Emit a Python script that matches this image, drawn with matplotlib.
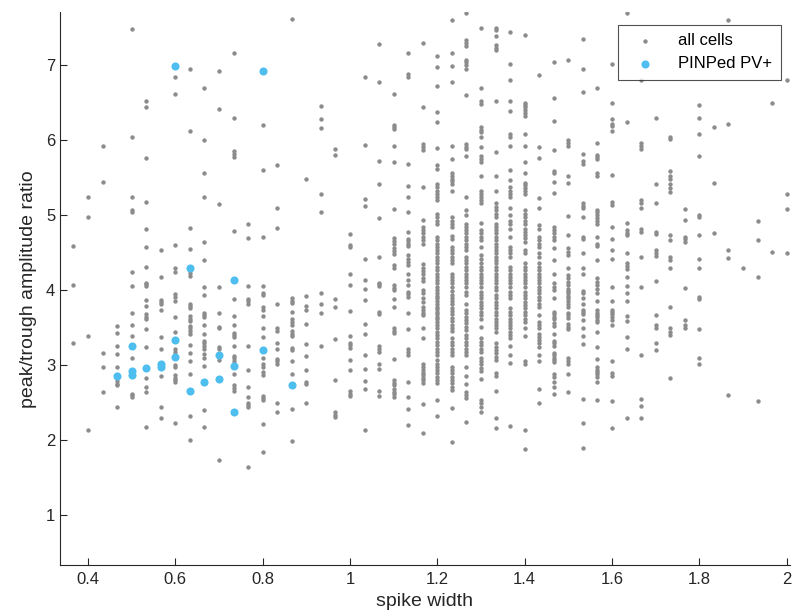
import matplotlib
matplotlib.use("Agg")
import matplotlib.pyplot as plt
import numpy as np

plt.rcParams['font.family'] = ['Liberation Sans', 'DejaVu Sans']

# spike width columns (values come in steps of 1/30)
widths = [0.3667, 0.4, 0.4333, 0.4667, 0.5, 0.5333, 0.5667, 0.6, 0.6333, 0.6667,
          0.7, 0.7333, 0.7667, 0.8, 0.8333, 0.8667, 0.9, 0.9333, 0.9667, 1.0,
          1.0333, 1.0667, 1.1, 1.1333, 1.1667, 1.2, 1.2333, 1.2667, 1.3, 1.3333,
          1.3667, 1.4, 1.4333, 1.4667, 1.5, 1.5333, 1.5667, 1.6, 1.6333, 1.6667,
          1.7, 1.7333, 1.7667, 1.8, 1.8333, 1.8667, 1.9, 1.9333, 1.9667, 2.0]

# peak/trough ratios of all cells, one list per width column
ratios_all = [
    [4.59, 4.07, 3.29],
    [5.25, 4.98, 3.39, 2.13],
    [5.93, 5.44, 3.16, 2.98, 2.64],
    [3.52, 3.43, 3.25, 3.15, 2.97, 2.79, 2.75, 2.74, 2.44],
    [7.48, 6.05, 5.25, 5.07, 5.04, 4.24, 4.05, 3.70, 3.54, 3.39, 3.09, 2.62, 2.60, 2.58],
    [6.53, 6.44, 5.76, 5.18, 4.82, 4.57, 4.31, 4.10, 4.08, 4.05, 3.87, 3.79, 3.68, 3.64,
     3.61, 3.48, 3.24, 2.83, 2.71, 2.64, 2.18],
    [4.54, 4.18, 3.87, 3.84, 3.81, 3.74, 3.38, 3.22, 3.00, 2.86, 2.44, 2.29],
    [6.84, 6.62, 4.60, 4.29, 4.24, 3.95, 3.91, 3.86, 3.64, 3.44, 3.22, 3.18, 3.00, 2.97,
     2.87, 2.83, 2.80, 2.78, 2.23],
    [6.95, 6.13, 4.83, 4.55, 4.23, 4.19, 3.82, 3.79, 3.76, 3.65, 3.62, 3.59, 3.52, 3.49,
     3.46, 3.42, 3.27, 3.16, 3.06, 2.88, 2.32, 2.00],
    [6.70, 6.01, 5.57, 5.24, 4.64, 4.40, 4.04, 3.94, 3.70, 3.67, 3.64, 3.53, 3.41, 3.32,
     3.29, 3.26, 3.22, 3.15, 3.10, 2.99, 2.40, 2.18],
    [6.92, 6.42, 5.15, 4.04, 3.70, 3.51, 3.49, 3.24, 3.21, 3.07, 1.74],
    [7.16, 6.30, 5.86, 5.82, 5.78, 4.79, 3.88, 3.65, 3.54, 3.43, 3.40, 3.37, 3.25, 3.12,
     3.09, 3.06, 2.88, 2.74, 2.70, 2.66],
    [4.89, 4.70, 4.05, 3.88, 3.85, 3.82, 3.25, 2.94, 2.71, 2.58, 2.50, 2.47, 2.44, 1.64],
    [6.20, 5.60, 4.71, 4.05, 3.96, 3.93, 3.77, 3.74, 3.65, 3.50, 3.37, 3.09, 3.02, 2.98,
     2.91, 2.87, 2.59, 2.56, 2.53, 2.21, 1.84],
    [5.67, 5.10, 4.83, 3.81, 3.50, 3.46, 3.30, 3.22, 3.08, 3.05, 3.01, 2.50, 2.37],
    [7.62, 3.89, 3.86, 3.83, 3.71, 3.61, 3.57, 3.53, 3.46, 3.42, 3.39, 3.23, 3.20, 3.05,
     2.88, 2.42, 1.99],
    [5.48, 3.92, 3.79, 3.73, 3.55, 3.28, 3.12, 2.93, 2.78, 2.75, 2.49],
    [6.46, 6.28, 6.16, 5.28, 5.04, 3.96, 3.81, 3.70, 3.26],
    [5.89, 5.81, 3.88, 3.77, 3.35, 2.80, 2.38, 2.34, 2.31],
    [4.75, 4.60, 4.57, 4.22, 4.07, 3.72, 3.39, 3.30, 3.27, 3.23, 3.07, 2.94, 2.65, 2.62, 2.59],
    [6.84, 5.94, 5.22, 5.12, 4.42, 4.13, 4.02, 3.87, 3.55, 3.42, 3.14, 2.95, 2.79, 2.68, 2.14],
    [7.28, 6.78, 5.72, 5.42, 4.97, 4.44, 4.10, 4.08, 4.05, 3.71, 3.68, 3.25, 3.22, 3.18,
     3.02, 2.95, 2.66, 2.59],
    [6.62, 6.21, 6.18, 6.15, 5.93, 5.71, 5.08, 4.69, 4.66, 4.62, 4.56, 4.52, 4.48, 4.33,
     4.30, 4.07, 4.03, 4.00, 3.88, 3.77, 3.49, 3.45, 3.43, 3.08, 2.80, 2.76, 2.73, 2.68,
     2.64, 2.61, 2.57],
    [7.16, 6.88, 6.84, 5.69, 5.39, 5.24, 5.04, 4.78, 4.68, 4.65, 4.62, 4.59, 4.47, 4.42,
     4.38, 4.33, 4.22, 4.13, 4.07, 3.98, 3.95, 3.91, 3.69, 3.48, 3.21, 3.18, 3.14, 2.78,
     2.57, 2.42, 2.20],
    [7.30, 6.44, 5.95, 5.91, 5.87, 5.38, 4.94, 4.85, 4.80, 4.76, 4.71, 4.67, 4.62, 4.35,
     4.30, 4.26, 4.22, 4.16, 4.12, 4.00, 3.96, 3.89, 3.84, 3.77, 3.73, 3.70, 3.67, 3.49,
     3.36, 3.02, 2.97, 2.93, 2.90, 2.87, 2.83, 2.80, 2.76, 2.48, 2.10],
    [7.12, 6.98, 6.72, 6.38, 6.24, 5.90, 5.67, 5.62, 5.42, 5.38, 5.33, 5.29, 5.24, 5.20,
     5.02, 4.98, 4.93, 4.89, 4.71, 4.67, 4.62, 4.58, 4.53, 4.49, 4.44, 4.40, 4.36, 4.31,
     4.27, 4.22, 4.18, 4.13, 4.09, 4.04, 4.00, 3.96, 3.92, 3.89, 3.85, 3.82, 3.78, 3.75,
     3.71, 3.68, 3.64, 3.62, 3.58, 3.53, 3.49, 3.44, 3.40, 3.36, 3.31, 3.27, 3.22, 3.18,
     3.13, 3.07, 3.02, 2.98, 2.93, 2.89, 2.84, 2.80, 2.76, 2.54, 2.32],
    [7.61, 7.17, 6.99, 6.78, 5.92, 5.75, 5.56, 5.53, 5.49, 5.46, 5.42, 5.33, 4.98, 4.93,
     4.89, 4.85, 4.72, 4.68, 4.58, 4.53, 4.49, 4.44, 4.40, 4.36, 4.22, 4.18, 4.13, 4.09,
     4.04, 3.99, 3.94, 3.90, 3.85, 3.81, 3.76, 3.72, 3.68, 3.63, 3.59, 3.54, 3.50, 3.45,
     3.36, 3.31, 3.27, 3.22, 3.18, 3.13, 2.98, 2.93, 2.89, 2.84, 2.80, 2.76, 2.71, 2.67,
     2.43, 1.97],
    [7.70, 7.34, 7.30, 7.26, 7.07, 7.04, 7.00, 6.95, 6.60, 5.95, 5.91, 5.88, 5.79, 5.25,
     5.07, 5.01, 4.89, 4.84, 4.80, 4.76, 4.71, 4.67, 4.62, 4.58, 4.53, 4.44, 4.40, 4.36,
     4.31, 4.27, 4.22, 4.18, 4.13, 4.09, 4.04, 3.98, 3.93, 3.82, 3.73, 3.69, 3.64, 3.60,
     3.56, 3.51, 3.47, 3.40, 3.36, 3.31, 3.27, 3.22, 3.18, 3.13, 2.97, 2.86, 2.75, 2.64,
     2.60, 2.56, 2.24],
    [7.50, 6.70, 6.53, 6.49, 6.18, 6.14, 6.11, 6.05, 5.91, 5.79, 5.75, 5.71, 5.53, 5.33,
     5.29, 5.24, 5.20, 5.16, 4.90, 4.80, 4.76, 4.71, 4.67, 4.58, 4.47, 4.42, 4.36, 4.31,
     4.27, 4.22, 4.18, 4.13, 4.09, 4.04, 3.98, 3.93, 3.89, 3.84, 3.80, 3.76, 3.71, 3.67,
     3.62, 3.51, 3.36, 3.31, 3.27, 3.22, 3.18, 3.10, 3.05, 3.01, 2.96, 2.92, 2.82, 2.53,
     2.49, 2.44, 2.37],
    [7.50, 7.47, 7.39, 7.27, 7.23, 7.20, 6.52, 5.85, 5.52, 5.32, 5.16, 5.11, 5.07, 5.02,
     4.98, 4.89, 4.84, 4.80, 4.76, 4.71, 4.67, 4.62, 4.58, 4.53, 4.49, 4.44, 4.40, 4.36,
     4.31, 4.27, 4.22, 4.18, 4.13, 4.09, 4.04, 4.00, 3.93, 3.89, 3.84, 3.80, 3.76, 3.71,
     3.67, 3.62, 3.58, 3.53, 3.49, 3.44, 3.29, 3.24, 3.20, 3.16, 3.11, 3.07, 2.90, 2.86,
     2.66, 2.30, 2.16],
    [7.44, 7.02, 6.80, 6.53, 6.39, 6.08, 6.05, 5.93, 5.61, 5.47, 5.38, 5.33, 5.29, 5.24,
     5.10, 5.00, 4.93, 4.89, 4.82, 4.71, 4.58, 4.53, 4.49, 4.44, 4.31, 4.27, 4.22, 4.18,
     4.13, 4.09, 4.04, 3.98, 3.93, 3.89, 3.76, 3.71, 3.67, 3.62, 3.58, 3.53, 3.49, 3.44,
     3.40, 3.36, 3.25, 3.14, 3.03, 2.19],
    [7.40, 6.50, 6.47, 6.44, 6.40, 6.36, 6.32, 6.09, 5.92, 5.71, 5.56, 5.43, 5.40, 5.36,
     5.33, 5.29, 5.07, 5.02, 4.98, 4.93, 4.89, 4.82, 4.78, 4.73, 4.69, 4.64, 4.53, 4.49,
     4.36, 4.31, 4.27, 4.22, 4.18, 4.13, 4.09, 4.04, 3.98, 3.93, 3.89, 3.84, 3.80, 3.76,
     3.71, 3.67, 3.62, 3.58, 3.49, 3.39, 3.05, 3.02, 2.13, 1.88],
    [6.87, 5.91, 5.76, 5.23, 5.10, 4.87, 4.82, 4.71, 4.67, 4.62, 4.58, 4.49, 4.44, 4.36,
     4.31, 4.27, 4.22, 4.18, 4.13, 4.09, 4.04, 4.00, 3.96, 3.91, 3.87, 3.82, 3.78, 3.67,
     3.58, 3.53, 3.49, 3.42, 3.38, 3.33, 3.29, 3.24, 3.13, 3.05, 2.68, 2.49],
    [7.04, 6.57, 6.26, 5.87, 5.59, 5.56, 5.44, 5.30, 4.84, 4.80, 4.76, 4.71, 4.67, 4.56,
     4.40, 4.22, 4.09, 4.04, 4.00, 3.90, 3.71, 3.68, 3.64, 3.61, 3.56, 3.52, 3.42, 3.32,
     3.29, 3.25, 3.16, 3.13, 3.10, 3.07, 3.04, 2.88, 2.84, 2.78, 2.71, 2.62],
    [7.07, 6.00, 5.96, 5.93, 5.52, 5.43, 4.99, 4.73, 4.56, 4.51, 4.47, 4.29, 4.20, 4.16,
     4.11, 4.07, 4.02, 3.99, 3.96, 3.92, 3.89, 3.85, 3.81, 3.78, 3.70, 3.67, 3.63, 3.55,
     3.51, 3.48, 3.09, 3.05, 3.02, 2.88, 2.64],
    [7.35, 6.95, 6.65, 5.82, 5.72, 5.68, 5.16, 5.13, 5.10, 4.98, 4.71, 4.68, 4.50, 4.30,
     4.21, 3.99, 3.96, 3.90, 3.82, 3.74, 3.71, 3.68, 3.60, 3.50, 3.39, 3.28, 2.55, 2.23, 1.89],
    [6.70, 5.96, 5.81, 5.78, 5.75, 5.56, 5.52, 5.07, 5.04, 5.01, 4.97, 4.93, 4.89, 4.71,
     4.62, 4.59, 4.40, 4.16, 4.11, 4.07, 4.02, 3.96, 3.86, 3.73, 3.70, 3.67, 3.64, 3.60,
     3.57, 3.44, 3.24, 3.08, 2.98, 2.94, 2.91, 2.88, 2.84, 2.78, 2.53],
    [7.02, 6.50, 6.29, 6.22, 6.19, 6.13, 5.54, 5.18, 5.14, 4.84, 4.68, 4.53, 4.42, 4.04,
     3.86, 3.74, 3.71, 3.68, 3.64, 3.60, 3.54, 3.05, 2.89, 2.86, 2.52, 2.16],
    [7.70, 6.24, 4.90, 4.80, 4.76, 4.73, 4.49, 4.36, 4.32, 4.28, 4.18, 4.06, 3.96, 3.86,
     3.66, 3.59, 3.37, 3.21, 2.29],
    [6.80, 5.96, 5.92, 5.88, 5.20, 5.17, 5.10, 4.82, 4.78, 4.44, 4.04, 3.14, 2.55, 2.45, 2.30],
    [6.30, 5.42, 5.16, 4.78, 4.75, 4.53, 4.50, 4.46, 4.12, 3.67, 3.53, 3.50, 3.29, 3.20],
    [6.05, 6.02, 5.59, 5.53, 5.48, 5.42, 5.37, 5.31, 4.73, 4.67, 4.44, 4.40, 4.29, 3.77,
     3.49, 3.44, 3.40, 2.83],
    [5.08, 4.94, 4.71, 4.68, 4.64, 4.03, 3.60, 3.54, 3.49],
    [6.47, 6.30, 6.08, 5.79, 5.01, 4.98, 4.73, 4.42, 4.30, 3.91, 3.88, 3.48, 3.10, 3.01],
    [6.18, 5.43, 4.76],
    [7.61, 6.22, 4.54, 4.43, 2.60],
    [4.30],
    [4.93, 4.67, 4.18, 2.52],
    [6.50, 4.51],
    [6.81, 5.29, 5.08, 4.50],
]

# PINPed PV+ cells
pv_width = [0.6, 0.8, 0.6333, 0.7333, 0.5, 0.6, 0.6, 0.4667, 0.5, 0.5, 0.5333,
            0.5667, 0.5667, 0.6333, 0.6667, 0.7, 0.7, 0.7333, 0.7333, 0.8, 0.8667]
pv_ratio = [6.99, 6.92, 4.30, 4.13, 3.26, 3.33, 3.11, 2.86, 2.92, 2.87, 2.96,
            3.02, 2.98, 2.65, 2.77, 3.14, 2.81, 2.99, 2.38, 3.20, 2.74]

all_x = []
all_y = []
for w, col in zip(widths, ratios_all):
    all_x += [w] * len(col)
    all_y += col

fig = plt.figure(figsize=(7.94, 6.14), dpi=100)
ax = fig.add_axes([0.0756, 0.0798, 0.919, 0.900])

ax.scatter(all_x, all_y, s=10, color='#8c8c8c', linewidths=0, label='all cells')
ax.scatter(pv_width, pv_ratio, s=34, color='#4dbeee', linewidths=0, label='PINPed PV+')

ax.set_xlim(0.336, 2.007)
ax.set_ylim(0.333, 7.707)
ax.set_xticks([0.4, 0.6, 0.8, 1, 1.2, 1.4, 1.6, 1.8, 2])
ax.set_xticklabels(['0.4', '0.6', '0.8', '1', '1.2', '1.4', '1.6', '1.8', '2'])
ax.set_yticks([1, 2, 3, 4, 5, 6, 7])

for s in ['top', 'right']:
    ax.spines[s].set_visible(False)
for s in ['left', 'bottom']:
    ax.spines[s].set_color('#262626')
    ax.spines[s].set_linewidth(0.8)
ax.tick_params(direction='in', length=5, width=0.8, colors='#262626', labelsize=12)
ax.tick_params(axis='x', pad=5)

ax.set_xlabel('spike width', fontsize=14, color='#262626', labelpad=4)
ax.set_ylabel('peak/trough amplitude ratio', fontsize=14, color='#262626', labelpad=6)

leg = ax.legend(loc='upper right', bbox_to_anchor=(0.988, 0.978), borderaxespad=0,
                fontsize=12, frameon=True, fancybox=False, handletextpad=0.9,
                handlelength=2.2, borderpad=0.5, labelspacing=0.5)
leg.get_frame().set_edgecolor('#262626')
leg.get_frame().set_linewidth(0.8)

fig.savefig('out.png', dpi=100)
